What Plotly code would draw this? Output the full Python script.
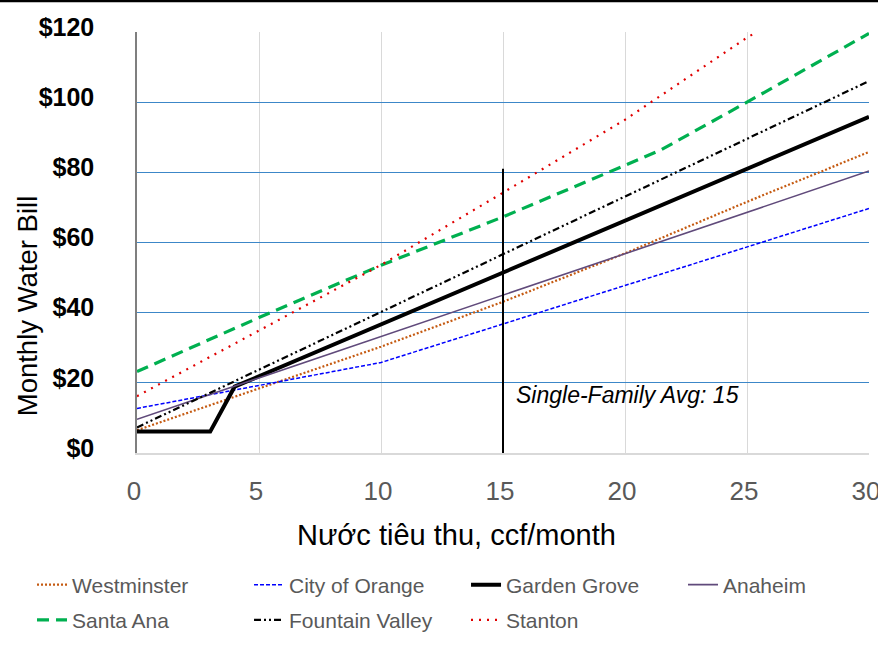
import plotly.graph_objects as go

# ---------------- data ----------------
westminster_x = [0, 5, 10, 15, 20, 25, 30]
westminster_y = [6.5, 18.3, 30.3, 43.1, 56.9, 71.6, 85.8]

orange_x = [0, 10, 30]
orange_y = [12.7, 25.8, 69.7]

garden_grove_x = [0, 3, 4, 30]
garden_grove_y = [6.1, 6.1, 18.9, 95.8]

anaheim_x = [0, 30]
anaheim_y = [9.6, 80.4]

santa_ana_x = [0, 5, 10, 15, 20, 21.5, 25, 30]
santa_ana_y = [23.2, 38.6, 53.5, 67.3, 82.0, 86.5, 100.0, 119.6]

fountain_valley_x = [0, 30]
fountain_valley_y = [7.3, 106.0]

stanton_x = [0, 5, 10, 15, 20, 25, 25.4]
stanton_y = [16.2, 34.8, 53.6, 74.2, 95.0, 118.4, 120.0]

avg_usage = 15
avg_line_top = 81
avg_label = "Single-Family Avg: 15"

y_ticks = [0, 20, 40, 60, 80, 100, 120]
y_tick_text = ["$" + str(v) for v in y_ticks]
x_ticks = [0, 5, 10, 15, 20, 25, 30]

REG = "Liberation Sans, Arial, sans-serif"

fig = go.Figure()

series = [
    ("Westminster", westminster_x, westminster_y, dict(color="#C55A11", width=2.2, dash="2px,2px"), "legend"),
    ("City of Orange", orange_x, orange_y, dict(color="#0000FF", width=1.5, dash="4px,2px"), "legend"),
    ("Garden Grove", garden_grove_x, garden_grove_y, dict(color="#000000", width=4), "legend"),
    ("Anaheim", anaheim_x, anaheim_y, dict(color="#604A7B", width=1.6), "legend3"),
    ("Santa Ana", santa_ana_x, santa_ana_y, dict(color="#00B050", width=3.2, dash="12px,7px"), "legend2"),
    ("Fountain Valley", fountain_valley_x, fountain_valley_y,
     dict(color="#000000", width=2.2, dash="7px,3px,2px,3px,2px,3px"), "legend2"),
    ("Stanton", stanton_x, stanton_y, dict(color="#E00000", width=2.2, dash="2px,6px"), "legend2"),
]

for name, xs, ys, line, lg in series:
    fig.add_trace(go.Scatter(x=xs, y=ys, mode="lines", name=name, line=line, legend=lg))

# average-usage marker line
fig.add_trace(go.Scatter(x=[avg_usage, avg_usage], y=[0, avg_line_top], mode="lines",
                         line=dict(color="#000000", width=2), showlegend=False, hoverinfo="skip"))

fig.add_annotation(x=avg_usage + 0.45, y=16.5, xref="x", yref="y", text=avg_label,
                   showarrow=False, xanchor="left", yanchor="middle",
                   font=dict(family=REG, size=23, color="#000000", style="italic"))

# axis titles as annotations (off-centre in the reference)
fig.add_annotation(x=0.436, y=-0.195, xref="paper", yref="paper", text="Nước tiêu thu, ccf/month",
                   showarrow=False, xanchor="center", yanchor="middle",
                   font=dict(family=REG, size=29, color="#000000"))
fig.add_annotation(x=-0.150, y=0.349, xref="paper", yref="paper", text="Monthly Water Bill",
                   showarrow=False, textangle=-90, xanchor="center", yanchor="middle",
                   font=dict(family=REG, size=27.5, color="#000000"))

# top border bar
fig.add_shape(type="line", xref="paper", yref="paper", x0=-0.2, x1=1.05, y0=1.074, y1=1.074,
              line=dict(color="#000000", width=3))

legend_common = dict(orientation="h", xanchor="left", yanchor="middle",
                     bgcolor="rgba(0,0,0,0)", borderwidth=0,
                     font=dict(family=REG, size=21, color="#595959"),
                     entrywidth=172, entrywidthmode="pixels", itemwidth=30)

fig.update_layout(
    width=878, height=654,
    margin=dict(l=137, r=9, t=32, b=201, autoexpand=False),
    plot_bgcolor="white", paper_bgcolor="white",
    legend=dict(y=-0.3135, x=-0.1434, **legend_common),
    legend2=dict(y=-0.397, x=-0.1434, **legend_common),
    legend3=dict(y=-0.3135, x=0.7459, **legend_common),
    xaxis=dict(range=[0, 30], tickvals=x_ticks, showgrid=True, gridcolor="#D9D9D9", gridwidth=1,
               showline=True, linecolor="#D9D9D9", linewidth=2, zeroline=False,
               ticks="", ticklabelstandoff=14, ticklabelshift=-3, ticklabeloverflow="allow",
               tickfont=dict(family=REG, size=26, color="#595959")),
    yaxis=dict(range=[0, 120], tickvals=y_ticks, ticktext=y_tick_text, showgrid=True,
               gridcolor="#3C87C8", gridwidth=1.3, showline=True, linecolor="#7F7F7F", linewidth=1.5,
               zeroline=False, ticks="", ticklabelstandoff=36, ticklabelshift=-5,
               tickfont=dict(family=REG, size=25, color="#000000", weight="bold")),
    showlegend=True,
)

fig.write_html("out.html", config={"displayModeBar": False},
               post_script="document.body.style.margin='0';")
